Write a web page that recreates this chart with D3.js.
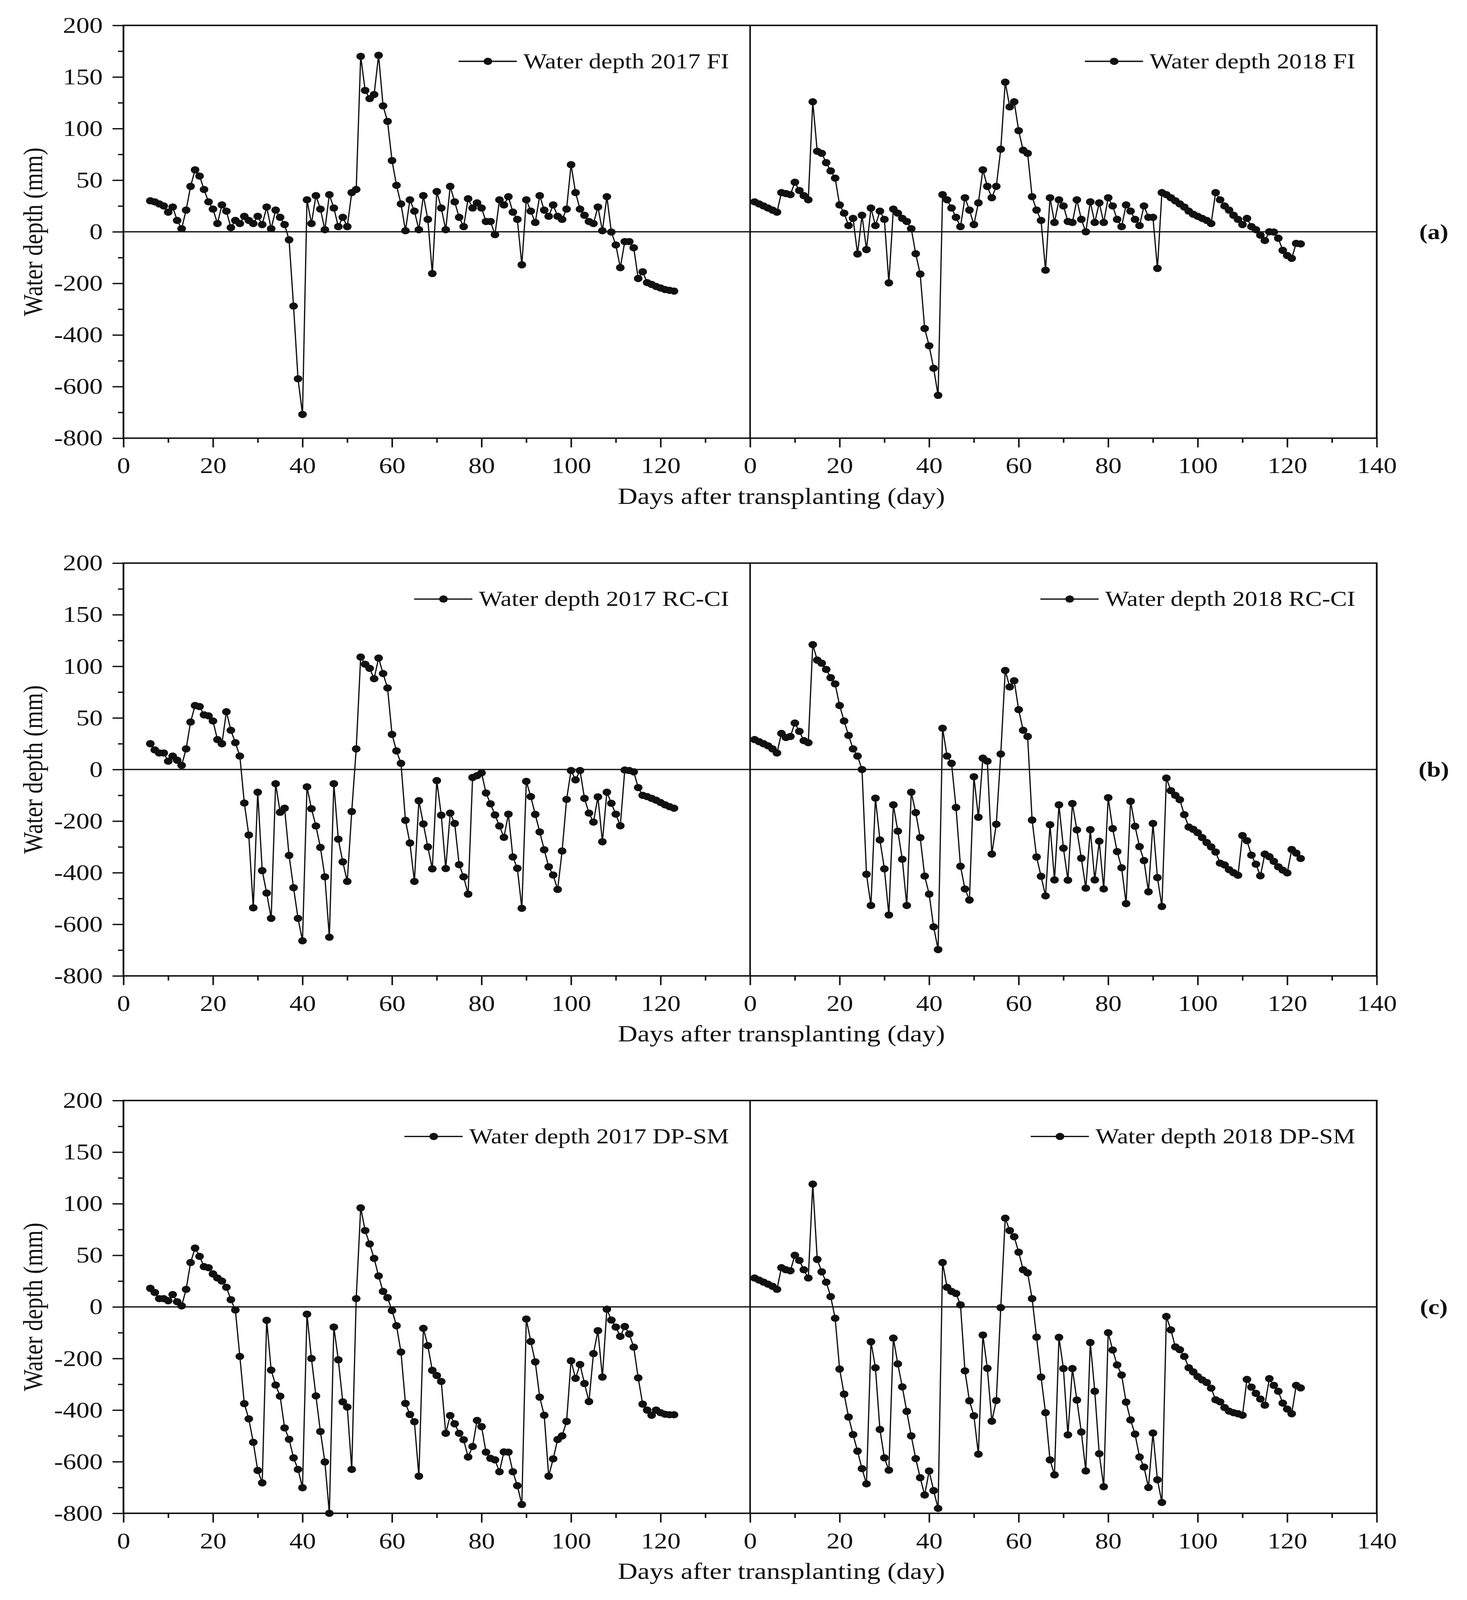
<!DOCTYPE html>
<html>
<head>
<meta charset="utf-8">
<script src="https://cdn.jsdelivr.net/npm/d3@7"></script>
<style>
  html, body { margin: 0; padding: 0; background: #fff; overflow: hidden; }
  svg { display: block; width: 100vw; height: 100vh; }
  text { font-family: "Liberation Serif", "Times New Roman", serif; fill: #111; }
</style>
</head>
<body>
<svg id="chart" viewBox="0 0 3755 4853" preserveAspectRatio="none"></svg>
<script>
// ---------- data ----------
const days2017 = [6,7,8,9,10,11,12,13,14,15,16,17,18,19,20,21,22,23,24,25,26,27,28,29,30,31,32,33,34,35,36,37,38,39,40,41,42,43,44,45,46,47,48,49,50,51,52,53,54,55,56,57,58,59,60,61,62,63,64,65,66,67,68,69,70,71,72,73,74,75,76,77,78,79,80,81,82,83,84,85,86,87,88,89,90,91,92,93,94,95,96,97,98,99,100,101,102,103,104,105,106,107,108,109,110,111,112,113,114,115,116,117,118,119,120,121,122,123];
const days2018 = [1,2,3,4,5,6,7,8,9,10,11,12,13,14,15,16,17,18,19,20,21,22,23,24,25,26,27,28,29,30,31,32,33,34,35,36,37,38,39,40,41,42,43,44,45,46,47,48,49,50,51,52,53,54,55,56,57,58,59,60,61,62,63,64,65,66,67,68,69,70,71,72,73,74,75,76,77,78,79,80,81,82,83,84,85,86,87,88,89,90,91,92,93,94,95,96,97,98,99,100,101,102,103,104,105,106,107,108,109,110,111,112,113,114,115,116,117,118,119,120,121,122,123];

const fi2017 = [
  30, 29, 27, 25, 19, 24, 11, 3, 21, 44,
  60, 54, 41, 29, 22, 8, 26, 20, 4, 11,
  8, 15, 11, 8, 15, 7, 24, 3, 21, 14,
  7, -31, -288, -570, -708, 31, 8, 35, 22, 2,
  36, 23, 5, 14, 5, 38, 41, 170, 137, 129,
  133, 171, 122, 107, 69, 45, 27, 1, 31, 20,
  2, 35, 12, -162, 39, 23, 2, 44, 29, 14,
  5, 32, 23, 28, 23, 10, 10, -11, 31, 26,
  34, 19, 12, -128, 31, 20, 9, 35, 21, 15,
  26, 15, 12, 22, 65, 38, 22, 16, 10, 8,
  24, 1, 34, -1, -51, -139, -38, -38, -62, -181,
  -155, -197, -204, -212, -218, -224, -227, -230];
const fi2018 = [
  29, 27, 25, 23, 21, 19, 38, 37, 36, 48,
  40, 35, 31, 126, 78, 76, 67, 59, 52, 26,
  18, 6, 13, -86, 16, -69, 23, 6, 20, 12,
  -198, 22, 18, 13, 10, 3, -85, -164, -375, -442,
  -529, -634, 36, 31, 23, 14, 5, 33, 21, 7,
  28, 60, 44, 33, 44, 80, 145, 121, 126, 98,
  79, 76, 34, 21, 11, -149, 33, 9, 31, 25,
  10, 9, 31, 12, 0, 29, 9, 28, 9, 33,
  25, 12, 5, 26, 20, 12, 6, 25, 14, 14,
  -142, 38, 36, 33, 30, 27, 24, 20, 17, 15,
  13, 11, 8, 38, 31, 25, 21, 16, 12, 7,
  13, 5, 2, -13, -34, 0, -1, -25, -72, -92,
  -103, -45, -47];
const rc2017 = [
  25, 19, 16, 16, 8, 13, 9, 4, 20, 46,
  62, 61, 53, 52, 47, 29, 25, 56, 38, 26,
  13, -130, -254, -536, -88, -392, -479, -577, -55, -166,
  -150, -333, -458, -577, -664, -67, -152, -219, -302, -416,
  -650, -55, -270, -358, -434, -163, 20, 109, 102, 98,
  88, 108, 93, 79, 34, 18, 6, -197, -285, -434,
  -121, -211, -300, -385, -43, -177, -384, -169, -209, -369,
  -416, -483, -31, -24, -13, -91, -133, -176, -219, -263,
  -173, -339, -383, -538, -46, -105, -174, -242, -311, -377,
  -409, -465, -316, -116, -4, -40, -4, -112, -169, -204,
  -106, -280, -88, -131, -173, -218, -2, -4, -9, -70,
  -100, -105, -112, -119, -128, -137, -144, -150];
const rc2018 = [
  29, 27, 25, 23, 20, 16, 35, 31, 32, 45,
  37, 28, 26, 121, 106, 103, 97, 89, 83, 62,
  47, 33, 20, 13, 0, -406, -527, -111, -273, -385,
  -564, -137, -239, -348, -527, -88, -167, -264, -413, -483,
  -610, -698, 40, 13, 6, -147, -375, -463, -506, -28,
  -185, 11, 8, -328, -212, 15, 96, 80, 86, 58,
  38, 32, -196, -339, -414, -490, -214, -428, -137, -305,
  -429, -132, -234, -344, -460, -233, -428, -278, -463, -109,
  -229, -318, -381, -520, -123, -220, -299, -353, -474, -209,
  -419, -531, -33, -82, -100, -117, -175, -223, -232, -245,
  -264, -283, -300, -320, -363, -370, -388, -400, -410, -256,
  -276, -332, -367, -412, -328, -338, -356, -377, -390, -401,
  -310, -324, -345];
const dp2017 = [
  18, 14, 8, 8, 6, 12, 5, 1, 17, 43,
  57, 49, 39, 38, 32, 28, 25, 19, 7, -12,
  -192, -375, -434, -525, -634, -682, -52, -245, -303, -346,
  -469, -513, -585, -630, -701, -28, -200, -345, -483, -601,
  -800, -78, -205, -368, -388, -630, 8, 96, 74, 61,
  47, 30, 15, 9, -14, -73, -175, -374, -417, -445,
  -656, -83, -150, -246, -266, -289, -490, -421, -453, -490,
  -515, -582, -541, -440, -464, -563, -587, -593, -639, -562,
  -563, -639, -693, -766, -47, -134, -213, -350, -420, -656,
  -589, -514, -500, -444, -209, -277, -223, -297, -367, -181,
  -92, -272, -9, -51, -78, -114, -76, -105, -156, -275,
  -377, -400, -420, -400, -410, -416, -418, -418];
const dp2018 = [
  28, 26, 24, 22, 20, 17, 38, 36, 35, 50,
  45, 36, 28, 119, 46, 34, 24, 10, -44, -241,
  -338, -427, -495, -559, -627, -686, -135, -236, -475, -585,
  -633, -121, -221, -310, -405, -500, -588, -662, -729, -636,
  -712, -781, 43, 19, 15, 13, 2, -248, -364, -422,
  -571, -109, -238, -443, -363, -3, 86, 74, 68, 53,
  36, 33, 8, -117, -272, -410, -593, -651, -118, -239,
  -496, -239, -361, -485, -636, -138, -327, -569, -697, -100,
  -167, -225, -264, -369, -438, -493, -582, -621, -700, -489,
  -670, -758, -37, -89, -155, -166, -192, -236, -252, -270,
  -283, -293, -315, -360, -368, -390, -404, -410, -414, -420,
  -281, -311, -335, -357, -381, -278, -304, -327, -373, -396,
  -414, -304, -314];

const panelLetters = ["(a)", "(b)", "(c)"];
const legend2017 = ["Water depth 2017 FI", "Water depth 2017 RC-CI", "Water depth 2017 DP-SM"];
const legend2018 = ["Water depth 2018 FI", "Water depth 2018 RC-CI", "Water depth 2018 DP-SM"];
const yMajorTicks = [200, 150, 100, 50, 0, -200, -400, -600, -800];
const yMinorTicks = [175, 125, 75, 25, -100, -300, -500, -700];
const xLeftLabels = [0, 20, 40, 60, 80, 100, 120];
const xRightLabels = [0, 20, 40, 60, 80, 100, 120, 140];
const xMinorTicks = [10, 30, 50, 70, 90, 110, 130];
const yTitle = "Water depth (mm)";
const xTitle = "Days after transplanting (day)";

// ---------- layout ----------
const svg = d3.select("#chart");
svg.append("rect").attr("width", 3755).attr("height", 4853).attr("fill", "#fff");

const plotLeft = 316, plotMid = 1920, plotRight = 3524;
const panelTops = [77, 1708, 3338];
const panelH = 1252;
const tickFont = 68, titleFont = 70, legendFont = 64;
const majorLen = 28, minorLen = 14;
const fmt = d => String(d); // plain hyphen-minus like the reference

const xL = d3.scaleLinear().domain([0, 140]).range([plotLeft, plotMid]);
const xR = d3.scaleLinear().domain([0, 140]).range([plotMid, plotRight]);

const seriesSets = [
  { a: fi2017, b: fi2018 },
  { a: rc2017, b: rc2018 },
  { a: dp2017, b: dp2018 }
];

seriesSets.forEach((set, i) => {
  const top = panelTops[i], bottom = top + panelH;
  const y = d3.scaleLinear().domain([-800, 0, 200]).range([bottom, top + panelH / 2, top]);
  const g = svg.append("g");

  // y axis (major + minor ticks)
  const yAx = g.append("g").attr("transform", `translate(${plotLeft},0)`)
    .call(d3.axisLeft(y).tickValues(yMajorTicks).tickSize(majorLen).tickPadding(25).tickFormat(fmt));
  yAx.select(".domain").remove();
  yAx.selectAll("line").attr("stroke", "#111").attr("stroke-width", 4);
  yAx.selectAll("text").attr("font-size", tickFont).attr("font-family", "Liberation Serif").attr("fill", "#111");
  const yMin = g.append("g").attr("transform", `translate(${plotLeft},0)`)
    .call(d3.axisLeft(y).tickValues(yMinorTicks).tickSize(minorLen).tickFormat(""));
  yMin.select(".domain").remove();
  yMin.selectAll("line").attr("stroke", "#111").attr("stroke-width", 4);

  // x axes
  [[xL, xLeftLabels], [xR, xRightLabels]].forEach(([xs, labels]) => {
    const ax = g.append("g").attr("transform", `translate(0,${bottom})`)
      .call(d3.axisBottom(xs).tickValues(labels).tickSize(majorLen).tickPadding(30).tickFormat(fmt));
    ax.select(".domain").remove();
    ax.selectAll("line").attr("stroke", "#111").attr("stroke-width", 4);
    ax.selectAll("text").attr("font-size", tickFont).attr("font-family", "Liberation Serif").attr("fill", "#111");
    const mn = g.append("g").attr("transform", `translate(0,${bottom})`)
      .call(d3.axisBottom(xs).tickValues(xMinorTicks).tickSize(minorLen).tickFormat(""));
    mn.select(".domain").remove();
    mn.selectAll("line").attr("stroke", "#111").attr("stroke-width", 4);
  });

  // frame, divider, zero line
  g.append("rect").attr("x", plotLeft).attr("y", top).attr("width", plotRight - plotLeft).attr("height", panelH)
    .attr("fill", "none").attr("stroke", "#111").attr("stroke-width", 4.5);
  g.append("line").attr("x1", plotMid).attr("x2", plotMid).attr("y1", top).attr("y2", bottom)
    .attr("stroke", "#111").attr("stroke-width", 4);
  g.append("line").attr("x1", plotLeft).attr("x2", plotRight).attr("y1", y(0)).attr("y2", y(0))
    .attr("stroke", "#111").attr("stroke-width", 4);

  // series
  const line = (xs) => d3.line().x(d => xs(d[0])).y(d => y(d[1]));
  [[xL, d3.zip(days2017, set.a)], [xR, d3.zip(days2018, set.b)]].forEach(([xs, pts]) => {
    g.append("path").datum(pts).attr("d", line(xs)).attr("fill", "none")
      .attr("stroke", "#111").attr("stroke-width", 3.2).attr("stroke-linejoin", "round");
    g.append("g").selectAll("circle").data(pts).join("circle")
      .attr("cx", d => xs(d[0])).attr("cy", d => y(d[1])).attr("r", 11).attr("fill", "#111");
  });

  // legends
  [[legend2017[i], plotMid - 54], [legend2018[i], plotRight - 55]].forEach(([label, xEnd]) => {
    const ly = top + 109;
    const t = g.append("text").attr("x", xEnd).attr("y", ly + 21).attr("text-anchor", "end")
      .attr("font-size", legendFont).text(label);
    const w = t.node().getComputedTextLength();
    const xs = xEnd - w;
    g.append("line").attr("x1", xs - 166).attr("x2", xs - 17).attr("y1", ly).attr("y2", ly)
      .attr("stroke", "#111").attr("stroke-width", 4);
    g.append("circle").attr("cx", xs - 91).attr("cy", ly).attr("r", 11).attr("fill", "#111");
  });

  // titles
  g.append("text").attr("transform", `translate(108,${top + panelH / 2}) rotate(-90)`)
    .attr("text-anchor", "middle").attr("font-size", titleFont).text(yTitle);
  g.append("text").attr("x", 2000).attr("y", bottom + 199).attr("text-anchor", "middle")
    .attr("font-size", titleFont).text(xTitle);
  g.append("text").attr("x", 3670).attr("y", y(0) + 22).attr("text-anchor", "middle")
    .attr("font-size", 64).attr("font-weight", "bold").text(panelLetters[i]);
});
</script>
</body>
</html>
